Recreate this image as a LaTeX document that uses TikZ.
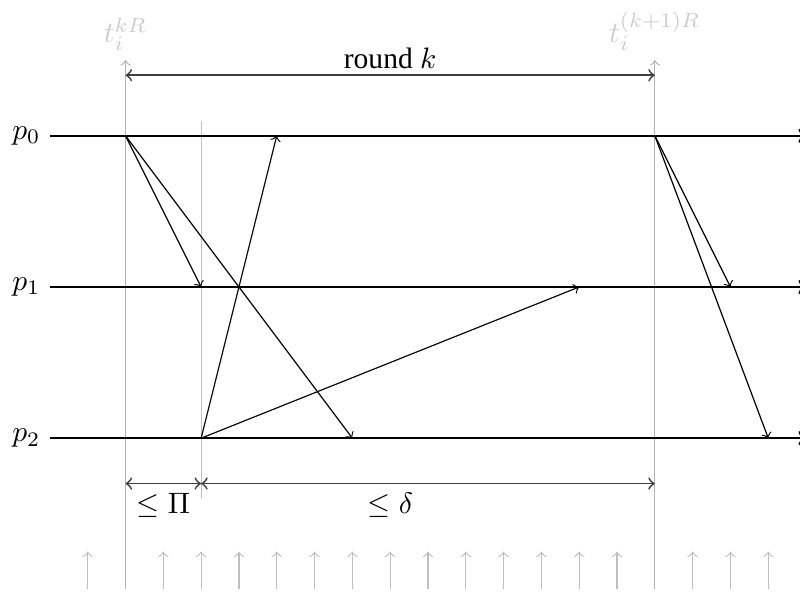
\documentclass[tikz,border=0pt]{standalone}
\usepackage{amssymb,amsmath}
\usepackage{fontspec}
\setmainfont{Liberation Serif}

\begin{document}
\begin{tikzpicture}[
x=0.45cm, y=0.45cm, % one tick = one time unit
>=to,
proc/.style={thick, ->},
msg/.style={->},
clock/.style={gray!50, ->},
dim/.style={black!75, semithick, <->},
every node/.style={inner sep=3pt}
]
\useasboundingbox (-1.32,-4.07) rectangle (19.84,11.59);

% ================= Processes =================
\coordinate (s0) at (0, 8);
\coordinate (s1) at (0, 4);
\coordinate (s2) at (0, 0);
\coordinate (e0) at (20, 8);
\coordinate (e1) at (20, 4);
\coordinate (e2) at (20, 0);

\node[left] (p0) at (s0) {$p_0$};
\node[left] (p1) at (s1) {$p_1$};
\node[left] (p2) at (s2) {$p_2$};

% ================= Clock ticks =================
\foreach \x in {1,3,4,...,15,17,18,19} {
  \coordinate (b\x) at (\x, -4);
  \coordinate (u\x) at (\x, -3);
  \draw[clock] (b\x) -- (u\x);
}

% Round boundaries
\coordinate (kb) at (2, -4);
\coordinate (kt) at (2, 10);
\coordinate (nb) at (16, -4);
\coordinate (nt) at (16, 10);
\draw[clock, gray!60] (kb) -- (kt);
\draw[clock, gray!60] (nb) -- (nt);
\node[above, text=gray!40] (tk) at (kt) {$t_i^{kR}$};
\node[above, text=gray!40] (tn) at (nt) {$t_i^{(k+1)R}$};

% Send time of p_2
\coordinate (wb) at (4, -1.6);
\coordinate (wt) at (4, 8.4);
\draw[gray!50] (wb) -- (wt);

\draw[proc] (s0) -- (e0);
\draw[proc] (s1) -- (e1);
\draw[proc] (s2) -- (e2);

% ================= Messages =================
\coordinate (a0) at (2, 8);
\coordinate (a1) at (4, 4);
\coordinate (a2) at (8, 0);
\coordinate (b0) at (6, 8);
\coordinate (c2) at (4, 0);
\coordinate (c1) at (14, 4);
\coordinate (d0) at (16, 8);
\coordinate (d1) at (18, 4);
\coordinate (d2) at (19, 0);

\draw[msg] (a0) -- (a1);
\draw[msg] (a0) -- (a2);
\draw[msg] (c2) -- (b0);
\draw[msg] (c2) -- (c1);
\draw[msg] (d0) -- (d1);
\draw[msg] (d0) -- (d2);

% ================= Bounds =================
\coordinate (r0) at (2, 9.6);
\coordinate (r1) at (16, 9.6);
\draw[dim] (r0) -- node[above, inner sep=2pt, text=black] (round) {round $k$} (r1);

\coordinate (m0) at (2, -1.2);
\coordinate (m1) at (4, -1.2);
\coordinate (m2) at (16, -1.2);
\draw[dim] (m0) -- node[below, text=black] (pi) {$\leq \Pi$} (m1);
\draw[dim] (m1) -- node[below, pos=0.417, text=black] (delta) {$\leq \delta$} (m2);

\end{tikzpicture}
\end{document}
